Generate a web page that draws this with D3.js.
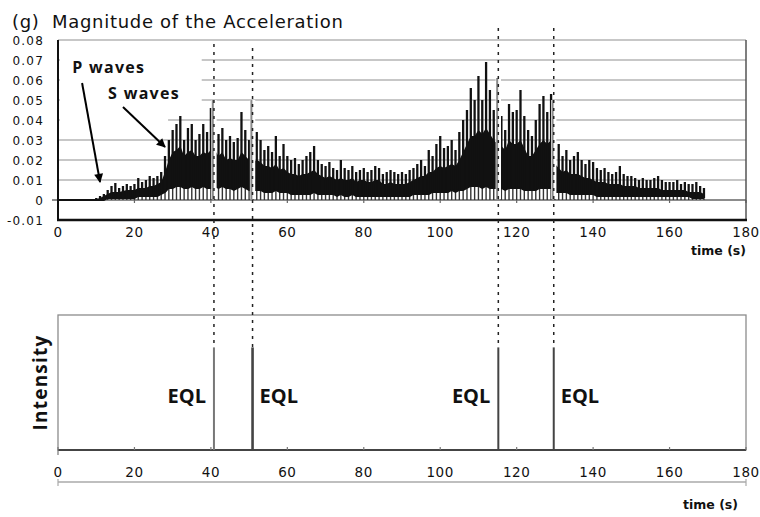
<!DOCTYPE html>
<html>
<head>
<meta charset="utf-8">
<script src="https://cdn.jsdelivr.net/npm/d3@7"></script>
<style>
body { margin: 0; background: #fff; }
svg text { font-family: "DejaVu Sans", sans-serif; fill: #111; }
.bold { font-family: "Open Sans", sans-serif; font-weight: bold; }
</style>
</head>
<body>
<script>
// acceleration trace, one reading per second from 0 s to 169 s
var seconds = d3.range(0, 170);

// highest spike in each second
var peakVals = [
  0,0,0,0,0,0,0,0,0,0,
  0.001,0.002,0.003,0.005,0.007,0.0085,0.006,0.007,0.008,0.007,
  0.008,0.011,0.009,0.010,0.012,0.011,0.012,0.014,0.022,0.030,
  0.035,0.038,0.042,0.030,0.036,0.038,0.030,0.033,0.038,0.034,
  0.046,0.041,0.033,0.036,0.030,0.032,0.029,0.031,0.044,0.035,
  0.030,0.028,0.034,0.030,0.025,0.027,0.024,0.032,0.022,0.028,
  0.022,0.020,0.021,0.018,0.020,0.022,0.024,0.027,0.020,0.018,
  0.017,0.019,0.016,0.015,0.020,0.016,0.015,0.017,0.014,0.015,
  0.016,0.014,0.015,0.017,0.016,0.013,0.014,0.015,0.014,0.013,
  0.014,0.013,0.015,0.016,0.018,0.020,0.017,0.025,0.022,0.028,
  0.032,0.026,0.027,0.030,0.025,0.034,0.040,0.045,0.056,0.050,
  0.062,0.050,0.069,0.055,0.045,0.040,0.042,0.035,0.048,0.044,
  0.045,0.055,0.042,0.035,0.032,0.040,0.048,0.052,0.044,0.053,
  0.030,0.028,0.022,0.025,0.020,0.022,0.024,0.020,0.018,0.020,
  0.019,0.016,0.015,0.016,0.014,0.013,0.014,0.017,0.013,0.012,
  0.012,0.011,0.010,0.011,0.010,0.010,0.011,0.012,0.010,0.009,
  0.009,0.009,0.010,0.008,0.009,0.008,0.008,0.009,0.007,0.006
];

// top of the dense black band
var bodyVals = [
  0,0,0,0,0,0,0,0,0,0,
  0.0005,0.001,0.002,0.003,0.004,0.004,0.004,0.0045,0.005,0.005,
  0.005,0.006,0.006,0.006,0.007,0.007,0.008,0.009,0.014,0.020,
  0.024,0.025,0.027,0.022,0.024,0.025,0.022,0.022,0.024,0.023,
  0.025,0.025,0.022,0.024,0.020,0.021,0.020,0.020,0.024,0.022,
  0.020,0.019,0.020,0.019,0.017,0.017,0.016,0.018,0.015,0.016,
  0.014,0.013,0.013,0.012,0.013,0.013,0.014,0.015,0.013,0.012,
  0.011,0.012,0.011,0.010,0.011,0.010,0.010,0.011,0.009,0.010,
  0.010,0.009,0.009,0.010,0.010,0.008,0.008,0.009,0.008,0.008,
  0.008,0.008,0.009,0.010,0.011,0.012,0.012,0.014,0.014,0.016,
  0.017,0.016,0.017,0.018,0.017,0.020,0.024,0.028,0.032,0.032,
  0.035,0.033,0.036,0.033,0.030,0.028,0.027,0.025,0.030,0.028,
  0.028,0.030,0.026,0.022,0.022,0.025,0.028,0.030,0.028,0.030,
  0.018,0.016,0.014,0.015,0.013,0.013,0.013,0.012,0.011,0.011,
  0.010,0.009,0.009,0.009,0.008,0.008,0.008,0.008,0.007,0.007,
  0.007,0.007,0.006,0.006,0.006,0.006,0.006,0.006,0.005,0.005,
  0.005,0.005,0.005,0.005,0.005,0.004,0.004,0.004,0.004,0.003
];

// bottom of the dense black band
var lowVals = [
  0,0,0,0,0,0,0,0,0,0,
  0,0,0,0.001,0.001,0.001,0.001,0.001,0.001,0.001,
  0.001,0.002,0.002,0.002,0.002,0.002,0.002,0.003,0.004,0.006,
  0.006,0.007,0.007,0.006,0.006,0.007,0.006,0.006,0.007,0.006,
  0.006,0.007,0.006,0.007,0.006,0.006,0.005,0.006,0.007,0.006,
  0.005,0.005,0.005,0.005,0.004,0.004,0.004,0.005,0.004,0.004,
  0.004,0.003,0.003,0.003,0.003,0.003,0.003,0.004,0.003,0.003,
  0.003,0.003,0.003,0.002,0.003,0.002,0.002,0.003,0.002,0.002,
  0.002,0.002,0.002,0.002,0.002,0.002,0.002,0.002,0.002,0.002,
  0.002,0.002,0.002,0.003,0.003,0.003,0.003,0.003,0.004,0.004,
  0.004,0.004,0.004,0.005,0.004,0.005,0.005,0.006,0.007,0.007,
  0.007,0.006,0.007,0.006,0.006,0.006,0.006,0.005,0.006,0.006,
  0.006,0.006,0.005,0.005,0.005,0.005,0.006,0.006,0.006,0.006,
  0.004,0.004,0.004,0.004,0.003,0.003,0.003,0.003,0.003,0.003,
  0.003,0.002,0.002,0.002,0.002,0.002,0.002,0.002,0.002,0.002,
  0.002,0.002,0.002,0.002,0.002,0.002,0.002,0.002,0.002,0.002,
  0.002,0.002,0.002,0.002,0.002,0.002,0.001,0.001,0.001,0.001
];

var yTicks = [-0.01, 0, 0.01, 0.02, 0.03, 0.04, 0.05, 0.06, 0.07, 0.08];
var yTickLabels = ["-0.01", "0", "0.01", "0.02", "0.03", "0.04", "0.05", "0.06", "0.07", "0.08"];
var xTicks = [0, 20, 40, 60, 80, 100, 120, 140, 160, 180];

// EQL detections
var eqlTimes = [40.8, 50.9, 115.2, 129.7];
var eqlPeaks = [0.05, 0.05, 0.061, 0.05];
var eqlIntensity = [0.76, 0.76, 0.76, 0.76];
var eqlSide = ["left", "right", "left", "right"];
var dashTops = [0.078, 0.076, 0.086, 0.086];

// wave annotations (time, acceleration)
var waveLabels = ["P waves", "S waves"];
var waveLabelAt = [[3.7, 0.0635], [13.1, 0.0505]];
var waveArrowFrom = [[6.3, 0.0585], [17.0, 0.0465]];
var waveArrowTo = [[11.0, 0.009], [28.0, 0.0265]];

var width = 760, height = 517;

var svg = d3.select("body").append("svg")
    .attr("width", width)
    .attr("height", height);

var x = d3.scaleLinear().domain([0, 180]).range([58, 746]);
var y = d3.scaleLinear().domain([-0.01, 0.08]).range([220, 40]);
var yB = d3.scaleLinear().domain([0, 1]).range([450, 315]);

svg.append("defs").append("marker")
    .attr("id", "arrow")
    .attr("viewBox", "0 0 10 10")
    .attr("refX", 9).attr("refY", 5)
    .attr("markerWidth", 10).attr("markerHeight", 9)
    .attr("markerUnits", "userSpaceOnUse")
    .attr("orient", "auto")
    .append("path")
    .attr("d", "M0,0L10,5L0,10z")
    .attr("fill", "#000");

// title
svg.append("text").attr("x", 12).attr("y", 28)
    .style("font-size", "18px").style("letter-spacing", "0.7px").text("(g)");
svg.append("text").attr("x", 52).attr("y", 28)
    .style("font-size", "18px").style("letter-spacing", "0.7px")
    .text("Magnitude of the Acceleration");

// ---- top chart ----
var accG = svg.append("g");

accG.selectAll(".grid")
    .data(yTicks.filter(function(d){ return d > 0; }))
    .enter().append("line")
    .attr("x1", x(0)).attr("x2", x(180))
    .attr("y1", function(d){ return y(d); })
    .attr("y2", function(d){ return y(d); })
    .attr("stroke", "#b4b4b4").attr("stroke-width", 1.6);

// white box behind the wave labels
accG.append("rect")
    .attr("x", x(0) + 2).attr("y", y(0.074))
    .attr("width", x(37.6) - x(0) - 2).attr("height", y(0.047) - y(0.074))
    .attr("fill", "#fff");
accG.append("rect")
    .attr("x", x(0) + 2).attr("y", y(0.047))
    .attr("width", x(28.8) - x(0) - 2).attr("height", y(0.037) - y(0.047))
    .attr("fill", "#fff");

// zero line
accG.append("line")
    .attr("x1", x(0) - 6).attr("x2", x(180))
    .attr("y1", y(0)).attr("y2", y(0))
    .attr("stroke", "#666").attr("stroke-width", 1.6);
accG.selectAll(".ztick")
    .data(xTicks)
    .enter().append("line")
    .attr("x1", function(d){ return x(d); })
    .attr("x2", function(d){ return x(d); })
    .attr("y1", y(0)).attr("y2", y(0) + 3)
    .attr("stroke", "#666").attr("stroke-width", 1.2);

// signal: dense band
var trace = seconds.map(function(t, i){
    return { t: t, peak: peakVals[i], body: bodyVals[i], low: lowVals[i] };
});

accG.selectAll(".drop")
    .data(trace.filter(function(d){ return d.t >= 10; }))
    .enter().append("line")
    .attr("x1", function(d){ return x(d.t); })
    .attr("x2", function(d){ return x(d.t); })
    .attr("y1", y(0))
    .attr("y2", function(d){ return y(d.low); })
    .attr("stroke", "#333").attr("stroke-width", 1.4);

accG.append("path")
    .datum(trace)
    .attr("d", d3.area()
        .x(function(d){ return x(d.t); })
        .y0(function(d){ return y(d.low); })
        .y1(function(d){ return y(d.body); }))
    .attr("fill", "#111");

accG.append("path")
    .datum(trace)
    .attr("d", d3.line()
        .x(function(d){ return x(d.t); })
        .y(function(d){ return y(d.low); }))
    .attr("fill", "none")
    .attr("stroke", "#111").attr("stroke-width", 1.8);

accG.selectAll(".spike")
    .data(trace.filter(function(d){ return d.t >= 10; }))
    .enter().append("line")
    .attr("x1", function(d){ return x(d.t); })
    .attr("x2", function(d){ return x(d.t); })
    .attr("y1", function(d){ return y(d.low); })
    .attr("y2", function(d){ return y(d.peak); })
    .attr("stroke", "#111").attr("stroke-width", 2.3);

// EQL gaps in the trace
var eql = eqlTimes.map(function(t, i){
    return { t: t, peak: eqlPeaks[i], level: eqlIntensity[i], side: eqlSide[i], dashTop: dashTops[i] };
});

accG.selectAll(".gap")
    .data(eql)
    .enter().append("rect")
    .attr("x", function(d){ return x(d.t - 0.7); })
    .attr("width", function(d){ return x(1.4) - x(0); })
    .attr("y", function(d){ return y(d.peak); })
    .attr("height", function(d){ return y(0) - y(d.peak) - 1; })
    .attr("fill", "#fff");
accG.selectAll(".eqlspike")
    .data(eql)
    .enter().append("line")
    .attr("x1", function(d){ return x(d.t - 0.3); })
    .attr("x2", function(d){ return x(d.t - 0.3); })
    .attr("y1", y(0))
    .attr("y2", function(d){ return y(d.peak); })
    .attr("stroke", "#8a8a8a").attr("stroke-width", 2);

// frame
accG.append("line")
    .attr("x1", x(180)).attr("x2", x(180))
    .attr("y1", y(0.08)).attr("y2", y(-0.01))
    .attr("stroke", "#555").attr("stroke-width", 1.5);
accG.append("line")
    .attr("x1", x(0)).attr("x2", x(0))
    .attr("y1", y(0.08)).attr("y2", y(-0.01))
    .attr("stroke", "#111").attr("stroke-width", 2);
accG.append("line")
    .attr("x1", x(0) - 1).attr("x2", x(180) + 1)
    .attr("y1", y(-0.01)).attr("y2", y(-0.01))
    .attr("stroke", "#111").attr("stroke-width", 2.6);

accG.selectAll(".ylab")
    .data(yTicks)
    .enter().append("text")
    .attr("x", 44)
    .attr("y", function(d){ return y(d) + 4.5; })
    .attr("text-anchor", "end")
    .style("font-size", "12px")
    .style("letter-spacing", "1.2px")
    .text(function(d, i){ return yTickLabels[i]; });

accG.selectAll(".xlab")
    .data(xTicks)
    .enter().append("text")
    .attr("x", function(d){ return x(d); })
    .attr("y", 237)
    .attr("text-anchor", "middle")
    .style("font-size", "13.5px")
    .style("letter-spacing", "0.6px")
    .text(function(d){ return d; });

accG.append("text")
    .attr("x", x(180)).attr("y", 255)
    .attr("text-anchor", "end")
    .style("font-size", "12.5px").style("font-weight", "bold")
    .text("time (s)");

// wave annotations
accG.selectAll(".wlab")
    .data(waveLabels)
    .enter().append("text")
    .attr("class", "bold")
    .attr("x", function(d, i){ return x(waveLabelAt[i][0]); })
    .attr("y", function(d, i){ return y(waveLabelAt[i][1]); })
    .style("font-size", "16px")
    .style("letter-spacing", "1.3px")
    .text(function(d){ return d; });

accG.selectAll(".warrow")
    .data(waveLabels)
    .enter().append("line")
    .attr("x1", function(d, i){ return x(waveArrowFrom[i][0]); })
    .attr("y1", function(d, i){ return y(waveArrowFrom[i][1]); })
    .attr("x2", function(d, i){ return x(waveArrowTo[i][0]); })
    .attr("y2", function(d, i){ return y(waveArrowTo[i][1]); })
    .attr("stroke", "#000").attr("stroke-width", 2)
    .attr("marker-end", "url(#arrow)");

// ---- bottom chart ----
var intG = svg.append("g");

intG.append("rect")
    .attr("x", x(0)).attr("y", yB(1))
    .attr("width", x(180) - x(0)).attr("height", yB(0) - yB(1))
    .attr("fill", "none")
    .attr("stroke", "#8c8c8c").attr("stroke-width", 1.3);

intG.append("line")
    .attr("x1", x(0)).attr("x2", x(180))
    .attr("y1", yB(0)).attr("y2", yB(0))
    .attr("stroke", "#444").attr("stroke-width", 2);

intG.selectAll(".btick")
    .data(xTicks)
    .enter().append("line")
    .attr("x1", function(d){ return x(d); })
    .attr("x2", function(d){ return x(d); })
    .attr("y1", yB(0) - 3).attr("y2", function(d){ return d === 0 ? yB(0) + 5 : yB(0); })
    .attr("stroke", "#777").attr("stroke-width", 1.2);

intG.selectAll(".blab")
    .data(xTicks)
    .enter().append("text")
    .attr("x", function(d){ return x(d); })
    .attr("y", 477)
    .attr("text-anchor", "middle")
    .style("font-size", "13.5px")
    .style("letter-spacing", "0.6px")
    .text(function(d){ return d; });

// lower time bracket
intG.append("line")
    .attr("x1", x(0)).attr("x2", x(180))
    .attr("y1", 482).attr("y2", 482)
    .attr("stroke", "#aaa").attr("stroke-width", 1.5);
intG.selectAll(".bend")
    .data([0, 180])
    .enter().append("line")
    .attr("x1", function(d){ return x(d); })
    .attr("x2", function(d){ return x(d); })
    .attr("y1", 479).attr("y2", 486)
    .attr("stroke", "#aaa").attr("stroke-width", 1.2);

intG.append("text")
    .attr("x", 738).attr("y", 509)
    .attr("text-anchor", "end")
    .style("font-size", "12.5px").style("font-weight", "bold")
    .text("time (s)");

intG.append("text")
    .attr("class", "bold")
    .attr("transform", "translate(47," + yB(0.5) + ") rotate(-90)")
    .attr("text-anchor", "middle")
    .style("font-size", "19px")
    .style("letter-spacing", "1.2px")
    .text("Intensity");

intG.selectAll(".bspike")
    .data(eql)
    .enter().append("line")
    .attr("x1", function(d){ return x(d.t); })
    .attr("x2", function(d){ return x(d.t); })
    .attr("y1", yB(0))
    .attr("y2", function(d){ return yB(d.level); })
    .attr("stroke", function(d, i){ return i === 0 ? "#777" : "#444"; })
    .attr("stroke-width", function(d, i){ return i === 1 ? 2.6 : 2; });

intG.selectAll(".eqllab")
    .data(eql)
    .enter().append("text")
    .attr("class", "bold")
    .attr("x", function(d){ return d.side === "left" ? x(d.t) - 8 : x(d.t) + 7; })
    .attr("y", yB(0.348))
    .attr("text-anchor", function(d){ return d.side === "left" ? "end" : "start"; })
    .style("font-size", "20px")
    .text("EQL");

// dashed connectors
svg.selectAll(".dash")
    .data(eql)
    .enter().append("line")
    .attr("x1", function(d){ return x(d.t); })
    .attr("x2", function(d){ return x(d.t); })
    .attr("y1", function(d){ return y(d.dashTop); })
    .attr("y2", function(d){ return yB(d.level); })
    .attr("stroke", "#222").attr("stroke-width", 1.5)
    .attr("stroke-dasharray", "3,5");
</script>
</body>
</html>
